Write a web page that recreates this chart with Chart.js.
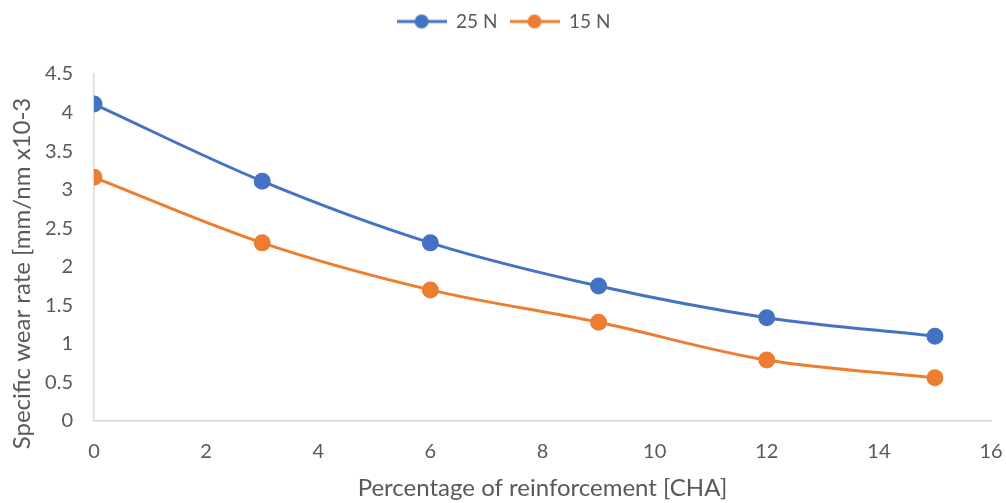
<!DOCTYPE html>
<html>
<head>
<meta charset="utf-8">
<script src="https://cdn.jsdelivr.net/npm/chart.js@4/dist/chart.umd.min.js"></script>
<style>
  body { margin: 0; background: #fff; }
  #wrap { width: 1006px; height: 503px; position: relative; }
</style>
</head>
<body>
<div id="wrap"><canvas id="chart"></canvas></div>
<script>
// reinforcement % on x
const reinforcement = [0, 3, 6, 9, 12, 15];
// specific wear rate values
const wear25N = [4.11, 3.11, 2.31, 1.75, 1.34, 1.10];
const wear15N = [3.16, 2.31, 1.70, 1.28, 0.79, 0.56];
const seriesNames = ['25 N', '15 N'];
const xTicks = [0, 2, 4, 6, 8, 10, 12, 14, 16];
const yTicks = [0, 0.5, 1, 1.5, 2, 2.5, 3, 3.5, 4, 4.5];

const BLUE = '#4472C4';
const ORANGE = '#ED7D31';
const GREY = '#595959';
const FONT = "'Lato', sans-serif";

// legend marker: line with dot
function legendMarker(color) {
  const c = document.createElement('canvas');
  c.width = 50; c.height = 16;
  const g = c.getContext('2d');
  g.strokeStyle = color;
  g.lineWidth = 3;
  g.beginPath(); g.moveTo(0, 8); g.lineTo(50, 8); g.stroke();
  g.fillStyle = color;
  g.beginPath(); g.arc(25, 8, 7, 0, Math.PI * 2); g.fill();
  return c;
}

// wrap a draw fn with a translate
function shifted(fn, dx, dy) {
  return function () {
    const ctx = this.ctx;
    ctx.save();
    ctx.translate(dx, dy);
    fn.apply(this, arguments);
    ctx.restore();
  };
}

// extra room under the legend, small nudges for legend and y title
const layoutTweak = {
  id: 'layoutTweak',
  afterInit(chart) {
    const lg = chart.legend;
    const fit = lg.fit;
    lg.fit = function () { fit.call(this); this.height += 33; };
    lg.draw = shifted(lg.draw, -2, 0);
  },
  afterLayout(chart) {
    const y = chart.scales.y;
    if (!y._tweaked) {
      y.drawTitle = shifted(y.drawTitle, 0, 26);
      y._tweaked = true;
    }
  }
};

const toPoints = (vals) => vals.map((v, i) => ({ x: reinforcement[i], y: v }));

new Chart(document.getElementById('chart'), {
  type: 'line',
  data: {
    datasets: [
      {
        label: seriesNames[0],
        data: toPoints(wear25N),
        borderColor: BLUE,
        backgroundColor: BLUE,
        borderWidth: 3,
        pointRadius: 7,
        pointHoverRadius: 7,
        tension: 0.35,
        legendImg: legendMarker(BLUE)
      },
      {
        label: seriesNames[1],
        data: toPoints(wear15N),
        borderColor: ORANGE,
        backgroundColor: ORANGE,
        borderWidth: 3,
        pointRadius: 7,
        pointHoverRadius: 7,
        tension: 0.35,
        legendImg: legendMarker(ORANGE)
      }
    ]
  },
  plugins: [layoutTweak],
  options: {
    responsive: true,
    maintainAspectRatio: false,
    animation: false,
    layout: { padding: { top: 0, right: 1, bottom: 0, left: 6 } },
    plugins: {
      tooltip: { enabled: false },
      legend: {
        position: 'top',
        labels: {
          usePointStyle: true,
          pointStyleWidth: 50,
          padding: 12,
          color: GREY,
          font: { family: FONT, size: 19 },
          generateLabels: (chart) => {
            const items = Chart.defaults.plugins.legend.labels.generateLabels(chart);
            items.forEach(it => { it.pointStyle = chart.data.datasets[it.datasetIndex].legendImg; });
            return items;
          }
        }
      }
    },
    scales: {
      x: {
        type: 'linear',
        min: 0,
        max: 16,
        afterBuildTicks: (s) => { s.ticks = xTicks.map(v => ({ value: v })); },
        afterFit: (s) => { s.height = 82; s.paddingLeft = 0; s.paddingRight = 15; },
        grid: { display: true, color: 'transparent', drawTicks: false },
        border: { display: true, color: '#D9D9D9', width: 1.5 },
        ticks: { color: GREY, padding: 19, font: { family: FONT, size: 20 } },
        title: {
          display: true,
          text: 'Percentage of reinforcement [CHA]',
          color: GREY,
          font: { family: FONT, size: 24 },
          padding: { top: 0, bottom: 0 }
        }
      },
      y: {
        min: 0,
        max: 4.5,
        afterBuildTicks: (s) => { s.ticks = yTicks.map(v => ({ value: v })); },
        afterFit: (s) => { s.width = 88; },
        grid: { display: true, color: 'transparent', drawTicks: false },
        border: { display: true, color: '#D9D9D9', width: 1.5 },
        ticks: {
          color: GREY,
          padding: 21,
          font: { family: FONT, size: 20 },
          callback: (v) => String(v)
        },
        title: {
          display: true,
          text: 'Specific wear rate [mm/nm x10-3',
          color: GREY,
          font: { family: FONT, size: 24 },
          padding: { top: 2, bottom: 0 }
        }
      }
    }
  }
});
</script>
</body>
</html>
